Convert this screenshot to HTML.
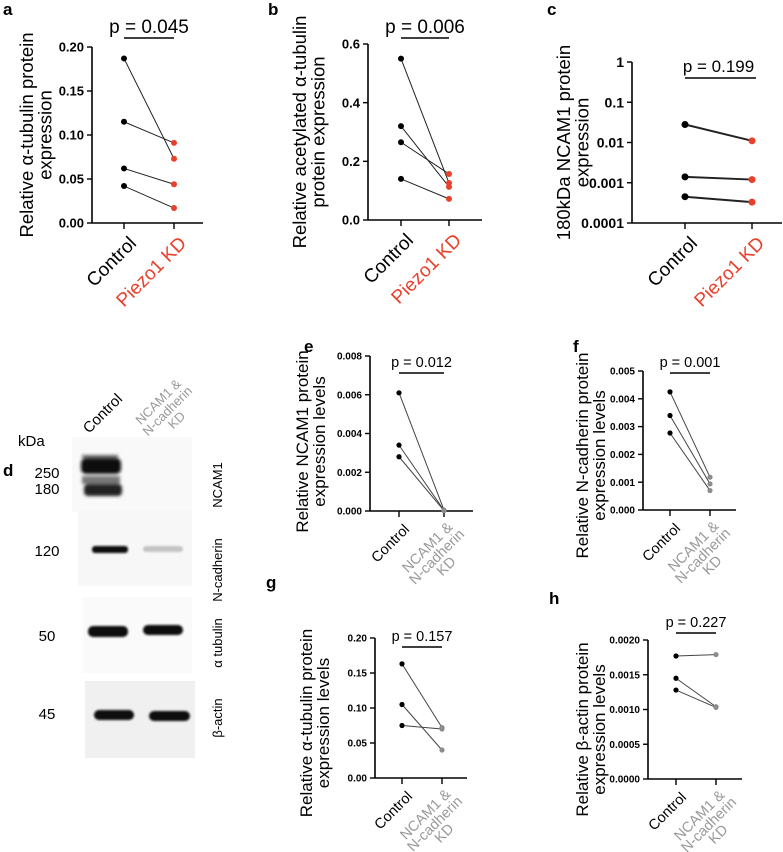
<!DOCTYPE html>
<html><head><meta charset="utf-8">
<style>
html,body{margin:0;padding:0;background:#fff;}
svg{display:block;font-family:"Liberation Sans",Arial,sans-serif;}
</style></head>
<body>
<svg id="fig" width="783" height="852" viewBox="0 0 783 852" xmlns="http://www.w3.org/2000/svg">
  <g font-weight="bold" font-size="17" fill="#000">
    <text x="3" y="15">a</text>
    <text x="268" y="15">b</text>
    <text x="547" y="15">c</text>
    <text x="3" y="476">d</text>
    <text x="304" y="352">e</text>
    <text x="573" y="352">f</text>
    <text x="266" y="588">g</text>
    <text x="549" y="604">h</text>
  </g>

  <g id="blot">
    <defs>
      <filter id="blur2" x="-20%" y="-50%" width="140%" height="200%"><feGaussianBlur stdDeviation="1.6"/></filter>
      <filter id="blur1" x="-20%" y="-50%" width="140%" height="200%"><feGaussianBlur stdDeviation="1"/></filter>
    </defs>
    <rect x="72" y="437" width="120" height="75" fill="#f9f9f9"/>
    <rect x="78" y="510" width="114" height="76" fill="#f7f7f7"/>
    <rect x="83" y="597" width="109" height="76" fill="#fafafa"/>
    <rect x="85" y="681" width="110" height="77" fill="#f0f0f0"/>
    <g filter="url(#blur2)">
      <rect x="81" y="458" width="40" height="16" rx="5" fill="#111"/>
      <rect x="82" y="476" width="38" height="8" fill="#777"/>
      <rect x="84" y="484" width="38" height="12" rx="4" fill="#222"/>
      <rect x="82" y="455" width="36" height="3" fill="#666"/>
    </g>
    <g filter="url(#blur1)">
      <rect x="92" y="546" width="36" height="7" rx="3" fill="#111"/>
      <rect x="143" y="546" width="40" height="6" rx="3" fill="#c4c4c4"/>
      <rect x="88" y="626" width="40" height="11" rx="5" fill="#0a0a0a"/>
      <rect x="143" y="625" width="40" height="10" rx="5" fill="#111"/>
      <rect x="94" y="710" width="40" height="10" rx="5" fill="#0a0a0a"/>
      <rect x="149" y="711" width="41" height="10" rx="5" fill="#111"/>
    </g>
    <text x="18" y="446" font-size="15">kDa</text>
    <text transform="translate(89,434) rotate(-45)" font-size="15">Control</text>
    <g transform="translate(150,436) rotate(-45)" font-size="13" fill="#999" text-anchor="middle">
      <text x="30" y="-14">NCAM1 &amp;</text>
      <text x="30" y="-1">N-cadherin</text>
      <text x="30" y="12">KD</text>
    </g>
    <g font-size="15" text-anchor="middle">
      <text x="47" y="478">250</text>
      <text x="47" y="494">180</text>
      <text x="47" y="556">120</text>
      <text x="47" y="641">50</text>
      <text x="47" y="719">45</text>
    </g>
    <g font-size="13" text-anchor="middle">
      <text transform="translate(222,485) rotate(-90)">NCAM1</text>
      <text transform="translate(222,570) rotate(-90)">N-cadherin</text>
      <text transform="translate(222,643) rotate(-90)">α tubulin</text>
      <text transform="translate(222,718) rotate(-90)">β-actin</text>
    </g>
  </g>
</svg>
<script>
// ---- data ----
const aControl = [0.187, 0.115, 0.062, 0.042];
const aKD = [0.073, 0.091, 0.044, 0.017];
const aTicks = ["0.00","0.05","0.10","0.15","0.20"];
const bControl = [0.55, 0.32, 0.265, 0.14];
const bKD = [0.126, 0.113, 0.157, 0.072];
const bTicks = ["0.0","0.2","0.4","0.6"];
const cControl = [0.028, 0.0014, 0.00045];
const cKD = [0.011, 0.0012, 0.00033];
const cTicks = ["0.0001","0.001","0.01","0.1","1"];
const eControl = [0.0061, 0.0034, 0.0028];
const eKD = [0.00005, 0.00003, 0.00002];
const eTicks = ["0.000","0.002","0.004","0.006","0.008"];
const fControl = [0.00425, 0.0034, 0.00277];
const fKD = [0.00118, 0.00094, 0.0007];
const fTicks = ["0.000","0.001","0.002","0.003","0.004","0.005"];
const gControl = [0.163, 0.105, 0.075];
const gKD = [0.072, 0.04, 0.07];
const gTicks = ["0.00","0.05","0.10","0.15","0.20"];
const hControl = [0.00177, 0.00145, 0.00128];
const hKD = [0.00179, 0.00104, 0.00103];
const hTicks = ["0.0000","0.0005","0.0010","0.0015","0.0020"];
const pValues = ["p = 0.045","p = 0.006","p = 0.199","p = 0.012","p = 0.001","p = 0.157","p = 0.227"];

const NS = "http://www.w3.org/2000/svg";
const svgRoot = document.getElementById('fig');
function mk(tag, attrs, parent){
  const e = document.createElementNS(NS, tag);
  for (const k in attrs) e.setAttribute(k, attrs[k]);
  (parent||svgRoot).appendChild(e);
  return e;
}

function panel(o){
  const g = mk('g', {});
  
  
  const vals = o.ticks.map(Number);
  const lo = vals[0], hi = vals[vals.length-1];
  const yScale = o.log
    ? v => o.y0 - (Math.log10(v) - Math.log10(lo)) / (Math.log10(hi) - Math.log10(lo)) * (o.y0 - o.y1)
    : v => o.y0 - (v - lo) / (hi - lo) * (o.y0 - o.y1);
  const ya = mk('line', {x1:o.ax, y1:o.y1, x2:o.ax, y2:o.y0, stroke:'#000', 'stroke-width':1.6}, g);
  
  
  const xa = mk('line', {x1:o.ax, y1:o.y0, x2:o.axEnd, y2:o.y0, stroke:'#000', 'stroke-width':1.6}, g);
  
  
  o.ticks.forEach((t) => {
    const y = yScale(Number(t));
    mk('line', {x1:o.ax-5, y1:y, x2:o.ax, y2:y, stroke:'#000', 'stroke-width':1.4}, g);
    const tl = mk('text', {x:o.ax-8, y:y + o.tfs*0.36, 'font-size':o.tfs, 'font-weight':'bold', 'text-anchor':'end'}, g);
    tl.textContent = t;
    
    
  });
  [o.xc, o.xk].forEach(x => mk('line', {x1:x, y1:o.y0, x2:x, y2:o.y0+6, stroke:'#000', 'stroke-width':1.4}, g));
  const cl = mk('text', {transform:`translate(${o.xc+4},${o.y0+12}) rotate(-45)`, 'font-size':o.xfs, 'text-anchor':'end', y: o.xfs*0.7}, g);
  cl.textContent = 'Control';
  
  
  if (o.kdColor === 'red') {
    const kl = mk('text', {transform:`translate(${o.xk+4},${o.y0+12}) rotate(-45)`, 'font-size':o.xfs, 'text-anchor':'end', y:o.xfs*0.7, fill:'#e8402a'}, g);
    kl.textContent = 'Piezo1 KD';
    
    
  } else {
    const kg = mk('g', {transform:`translate(${o.xk+3},${o.y0+8}) rotate(-45)`, 'font-size':o.xfs, 'text-anchor':'middle', fill:'#999'}, g);
    
    
    ['NCAM1 &','N-cadherin','KD'].forEach((s,i) => {
      const t = mk('text', {x:-34, y:o.xfs*0.75 + i*o.xfs*0.92}, kg);
      t.textContent = s;
    });
  }
  const tg = mk('g', {transform:`translate(${o.titleX},${(o.y0+o.y1)/2 + (o.titleDy||0)}) rotate(-90)`, 'font-size':o.titlefs, 'text-anchor':'middle'}, g);
  
  
  o.title.forEach((s,i) => {
    const t = mk('text', {x:0, y:i*o.titlefs*1.0}, tg);
    t.textContent = s;
  });
  const pt = mk('text', {x:(o.xc+o.xk)/2 + (o.pdx||0), y:o.pY, 'font-size':o.pfs, 'text-anchor':'middle'}, g);
  pt.textContent = o.p;
  
  
  const pb = mk('line', {x1:o.xc, y1:o.pBar, x2:o.xk + (o.barExt||0), y2:o.pBar, stroke:'#000', 'stroke-width':1.6}, g);
  
  
  const kdFill = o.kdColor === 'red' ? '#e8402a' : '#8c8c8c';
  o.control.forEach((v,i) => {
    const ln = mk('line', {x1:o.xc, y1:yScale(v), x2:o.xk, y2:yScale(o.kd[i]), stroke: o.kdColor==='red' ? '#222' : '#444', 'stroke-width':o.lw}, g);
    
    
  });
  o.control.forEach((v) => {
    const c = mk('circle', {cx:o.xc, cy:yScale(v), r:o.r, fill:'#000'}, g);
    
    
  });
  o.kd.forEach((v) => {
    const c = mk('circle', {cx:o.xk, cy:yScale(v), r:o.r, fill:kdFill}, g);
    
    
  });
}

const topStyle = {tfs:13, xfs:19, titlefs:18.5, pfs:19, r:3, lw:1};
panel(Object.assign({}, topStyle, {name:'panel-a-tubulin-chart', ax:92, axEnd:203, y0:223, y1:47, xc:124, xk:174,
  ticks:aTicks, control:aControl, kd:aKD, kdColor:'red', p:pValues[0], pY:33, pBar:38,
  title:['Relative  α-tubulin protein','expression'], titleX:33}));
panel(Object.assign({}, topStyle, {name:'panel-b-acetylated-tubulin-chart', ax:368, axEnd:482, y0:220, y1:44, xc:401, xk:449,
  ticks:bTicks, control:bControl, kd:bKD, kdColor:'red', p:pValues[1], pY:33, pBar:38,
  title:['Relative acetylated α-tubulin','protein expression'], titleX:306}));
panel(Object.assign({}, topStyle, {name:'panel-c-ncam1-log-chart', ax:632, axEnd:782, y0:223, y1:62, xc:685, xk:752, log:true,
  ticks:cTicks, control:cControl, kd:cKD, kdColor:'red', p:pValues[2], pY:72, pBar:78, barExt:4, pfs:17, lw:2, r:3.5,
  title:['180kDa NCAM1 protein','expression'], titleX:570, tfs:14}));

const botStyle = {tfs:10, xfs:14.5, titlefs:17, pfs:14.5, r:2.6, lw:1};
panel(Object.assign({}, botStyle, {name:'panel-e-ncam1-chart', ax:370, axEnd:473, y0:511, y1:356, xc:399, xk:444,
  ticks:eTicks, control:eControl, kd:eKD, kdColor:'gray', p:pValues[3], pY:367, pBar:373,
  title:['Relative NCAM1 protein','expression levels'], titleX:308, titleDy:8}));
panel(Object.assign({}, botStyle, {name:'panel-f-ncadherin-chart', ax:643, axEnd:736, y0:510, y1:371, xc:670, xk:710,
  ticks:fTicks, control:fControl, kd:fKD, kdColor:'gray', p:pValues[4], pY:367, pBar:373,
  title:['Relative N-cadherin protein','expression levels'], titleX:588, titleDy:15}));
panel(Object.assign({}, botStyle, {name:'panel-g-tubulin-chart', ax:375, axEnd:467, y0:778, y1:638, xc:402, xk:442,
  ticks:gTicks, control:gControl, kd:gKD, kdColor:'gray', p:pValues[5], pY:641, pBar:647,
  title:['Relative α-tubulin protein','expression levels'], titleX:312, titleDy:15}));
panel(Object.assign({}, botStyle, {name:'panel-h-actin-chart', ax:648, axEnd:742, y0:779, y1:640, xc:676, xk:716,
  ticks:hTicks, control:hControl, kd:hKD, kdColor:'gray', p:pValues[6], pY:627, pBar:633,
  title:['Relative β-actin  protein','expression levels'], titleX:588, titleDy:20}));
</script>
</body></html>
